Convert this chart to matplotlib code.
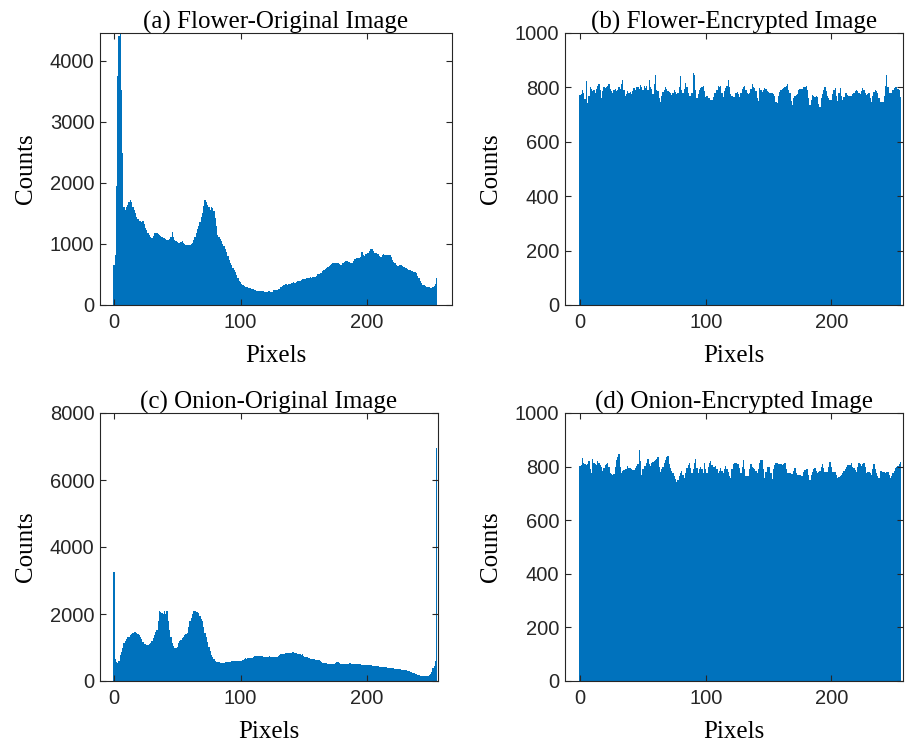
import numpy as np
import matplotlib
matplotlib.use("Agg")
import matplotlib.pyplot as plt

# pixel intensity bins 0..255
pixels = np.arange(256)

flower_orig = [
    650, 820, 1940, 3740, 4400, 4450, 3520, 2490, 1610, 1560, 1600, 1640, 1680, 1720, 1690, 1600,
    1560, 1500, 1440, 1400, 1370, 1380, 1360, 1370, 1320, 1260, 1220, 1180, 1140, 1110, 1100, 1130,
    1170, 1180, 1170, 1160, 1150, 1130, 1110, 1100, 1090, 1080, 1070, 1060, 1080, 1120, 1190, 1120,
    1060, 1040, 1030, 1020, 1010, 1030, 1050, 1010, 990, 985, 980, 975, 985, 990, 1020, 1070,
    1110, 1180, 1240, 1290, 1360, 1440, 1510, 1620, 1720, 1680, 1640, 1610, 1560, 1600, 1580, 1540,
    1420, 1300, 1150, 1120, 1080, 1040, 1000, 960, 910, 860, 800, 740, 690, 650, 610, 580,
    540, 490, 440, 400, 370, 350, 330, 310, 300, 290, 280, 275, 270, 265, 260, 250,
    240, 235, 230, 225, 225, 230, 225, 220, 215, 220, 230, 225, 215, 220, 240, 250,
    245, 250, 255, 265, 290, 310, 320, 330, 340, 330, 340, 350, 360, 365, 370, 366,
    375, 385, 395, 400, 410, 420, 425, 430, 435, 437, 440, 450, 445, 452, 454, 460,
    480, 500, 515, 525, 530, 555, 575, 590, 600, 620, 640, 660, 672, 680, 690, 694,
    694, 690, 670, 660, 656, 680, 700, 715, 722, 710, 700, 694, 694, 720, 754, 760,
    765, 770, 776, 790, 864, 820, 804, 830, 848, 848, 880, 910, 923, 890, 858, 850,
    840, 836, 800, 782, 820, 836, 825, 815, 820, 815, 810, 780, 740, 710, 680, 650,
    640, 645, 650, 656, 640, 620, 610, 600, 590, 580, 570, 562, 555, 545, 536, 520,
    480, 437, 400, 360, 330, 320, 310, 300, 295, 290, 285, 285, 290, 310, 340, 440,
]

flower_enc = [
    772, 776, 790, 780, 756, 825, 741, 770, 800, 795, 788, 789, 780, 793, 805, 811,
    790, 760, 785, 800, 798, 800, 806, 813, 795, 788, 779, 790, 793, 785, 790, 803,
    795, 812, 829, 790, 768, 775, 786, 780, 783, 776, 788, 796, 790, 800, 803, 795,
    808, 800, 790, 805, 798, 805, 790, 829, 800, 793, 775, 812, 845, 790, 788, 760,
    747, 770, 784, 790, 803, 795, 785, 784, 778, 772, 780, 790, 784, 775, 778, 800,
    842, 790, 778, 795, 815, 800, 778, 770, 768, 780, 852, 845, 790, 760, 775, 790,
    796, 800, 805, 785, 764, 770, 760, 760, 754, 754, 765, 778, 778, 790, 805, 800,
    805, 780, 764, 785, 796, 805, 826, 800, 776, 770, 766, 766, 778, 784, 776, 766,
    780, 793, 800, 805, 790, 778, 775, 778, 795, 812, 800, 796, 785, 760, 751, 796,
    790, 784, 790, 796, 793, 788, 784, 780, 778, 778, 776, 770, 745, 741, 770, 784,
    790, 793, 796, 800, 805, 812, 790, 778, 750, 735, 760, 768, 772, 776, 790, 793,
    795, 793, 800, 803, 805, 790, 760, 735, 755, 772, 770, 766, 768, 766, 740, 727,
    760, 776, 790, 803, 785, 768, 760, 754, 754, 775, 790, 796, 770, 751, 780, 796,
    770, 754, 765, 778, 778, 772, 770, 768, 768, 775, 778, 785, 790, 788, 780, 776,
    785, 796, 790, 780, 772, 775, 778, 760, 747, 770, 784, 790, 788, 780, 760, 747,
    747, 747, 770, 805, 845, 800, 778, 778, 778, 790, 796, 800, 803, 795, 790, 766,
]

onion_orig = [
    3250, 650, 560, 527, 600, 776, 880, 1000, 1124, 1200, 1260, 1300, 1323, 1360, 1400, 1440,
    1472, 1460, 1430, 1400, 1373, 1320, 1250, 1150, 1110, 1090, 1075, 1080, 1100, 1124, 1180, 1274,
    1380, 1460, 1522, 1800, 2100, 2050, 2030, 2000, 2100, 2000, 2100, 1800, 1522, 1300, 1124, 1050,
    990, 975, 1020, 1124, 1180, 1230, 1280, 1323, 1360, 1400, 1423, 1600, 1800, 1870, 2000, 2100,
    2080, 2060, 2050, 2030, 1950, 1850, 1780, 1600, 1423, 1300, 1150, 1025, 900, 780, 726, 650,
    590, 577, 570, 560, 540, 527, 527, 545, 560, 570, 575, 577, 580, 590, 585, 590,
    600, 595, 600, 600, 590, 610, 640, 670, 677, 665, 677, 677, 690, 700, 720, 740,
    746, 740, 746, 746, 740, 735, 730, 726, 726, 720, 726, 746, 720, 706, 726, 706,
    706, 720, 760, 790, 806, 800, 806, 806, 825, 825, 840, 845, 850, 856, 856, 850,
    840, 820, 806, 796, 790, 796, 760, 720, 706, 706, 690, 670, 660, 647, 647, 640,
    626, 626, 626, 600, 570, 540, 527, 527, 527, 520, 510, 500, 497, 497, 510, 530,
    557, 557, 540, 520, 507, 507, 510, 515, 507, 520, 527, 527, 520, 510, 505, 500,
    497, 497, 500, 497, 490, 487, 480, 477, 477, 470, 468, 465, 460, 457, 457, 450,
    440, 435, 430, 428, 425, 420, 412, 405, 400, 398, 395, 398, 390, 380, 370, 360,
    350, 348, 345, 340, 335, 330, 328, 320, 305, 290, 278, 265, 250, 230, 209, 195,
    180, 165, 159, 155, 152, 150, 149, 150, 160, 180, 219, 270, 378, 450, 600, 6950,
]

onion_enc = [
    802, 805, 831, 815, 809, 806, 810, 822, 790, 775, 827, 815, 810, 805, 822, 815,
    806, 800, 785, 795, 806, 810, 812, 800, 775, 772, 770, 772, 800, 825, 835, 847,
    800, 777, 785, 787, 790, 790, 802, 795, 793, 790, 787, 787, 795, 802, 810, 862,
    820, 768, 790, 802, 802, 815, 827, 810, 802, 812, 818, 820, 825, 830, 837, 800,
    781, 790, 800, 815, 825, 835, 840, 810, 793, 785, 775, 765, 755, 744, 750, 765,
    775, 785, 770, 756, 775, 793, 805, 812, 795, 775, 790, 815, 827, 795, 775, 790,
    800, 790, 775, 815, 790, 775, 800, 815, 822, 805, 797, 800, 802, 790, 775, 785,
    793, 785, 775, 790, 802, 790, 781, 765, 756, 790, 810, 812, 812, 810, 810, 793,
    775, 800, 825, 790, 765, 765, 765, 790, 810, 800, 793, 790, 785, 775, 790, 815,
    825, 825, 790, 756, 780, 800, 800, 800, 775, 752, 790, 806, 812, 815, 810, 810,
    808, 806, 810, 812, 790, 775, 775, 775, 772, 772, 785, 793, 775, 770, 768, 768,
    765, 765, 780, 787, 790, 790, 770, 750, 770, 781, 790, 793, 785, 775, 780, 785,
    800, 810, 795, 781, 781, 781, 800, 818, 800, 781, 781, 781, 770, 756, 760, 765,
    770, 775, 785, 790, 800, 806, 806, 806, 815, 800, 793, 787, 781, 800, 815, 810,
    802, 810, 815, 800, 775, 778, 781, 775, 768, 790, 810, 790, 775, 765, 756, 785,
    783, 781, 780, 777, 780, 781, 770, 756, 765, 775, 785, 793, 797, 802, 810, 818,
]

titles = ['(a) Flower-Original Image', '(b) Flower-Encrypted Image',
          '(c) Onion-Original Image', '(d) Onion-Encrypted Image']
series = [flower_orig, flower_enc, onion_orig, onion_enc]
ylims = [4450, 1000, 8000, 1000]
yticks = [[0, 1000, 2000, 3000, 4000], [0, 200, 400, 600, 800, 1000],
          [0, 2000, 4000, 6000, 8000], [0, 200, 400, 600, 800, 1000]]
xlims = [(-11, 267), (-12, 257), (-11, 256), (-12, 257)]

# axes boxes in figure pixels (left, top, right, bottom)
W, H = 914, 745
boxes = [(100, 33, 452, 305), (565, 33, 903, 305),
         (100, 413, 438, 681), (565, 413, 903, 681)]

fig = plt.figure(figsize=(W / 100, H / 100), dpi=100)
serif = 'Liberation Serif'
sans = 'Liberation Sans'

for i in range(4):
    l, t, r, b = boxes[i]
    ax = fig.add_axes([l / W, 1 - b / H, (r - l) / W, (b - t) / H])
    ax.bar(pixels, series[i], width=1.0, color='#0072BD', linewidth=0)
    ax.set_xlim(*xlims[i])
    ax.set_ylim(0, ylims[i])
    ax.set_xticks([0, 100, 200])
    ax.set_yticks(yticks[i])
    ax.tick_params(direction='in', length=4, width=0.8, top=True, right=True,
                   labelsize=14.5, colors='#262626')
    ax.tick_params(axis='x', pad=6)
    ax.tick_params(axis='y', pad=4)
    for lab in ax.get_xticklabels() + ax.get_yticklabels():
        lab.set_fontfamily(sans)
        lab.set_color('#262626')
    for sp in ax.spines.values():
        sp.set_color('#262626')
        sp.set_linewidth(0.8)
    ax.set_title(titles[i], fontsize=18, family=serif, pad=3)
    ax.set_xlabel('Pixels', fontsize=18, family=serif, labelpad=9)
    ax.set_ylabel('Counts', fontsize=18, family=serif, labelpad=9)

fig.savefig('out.png', dpi=100)
